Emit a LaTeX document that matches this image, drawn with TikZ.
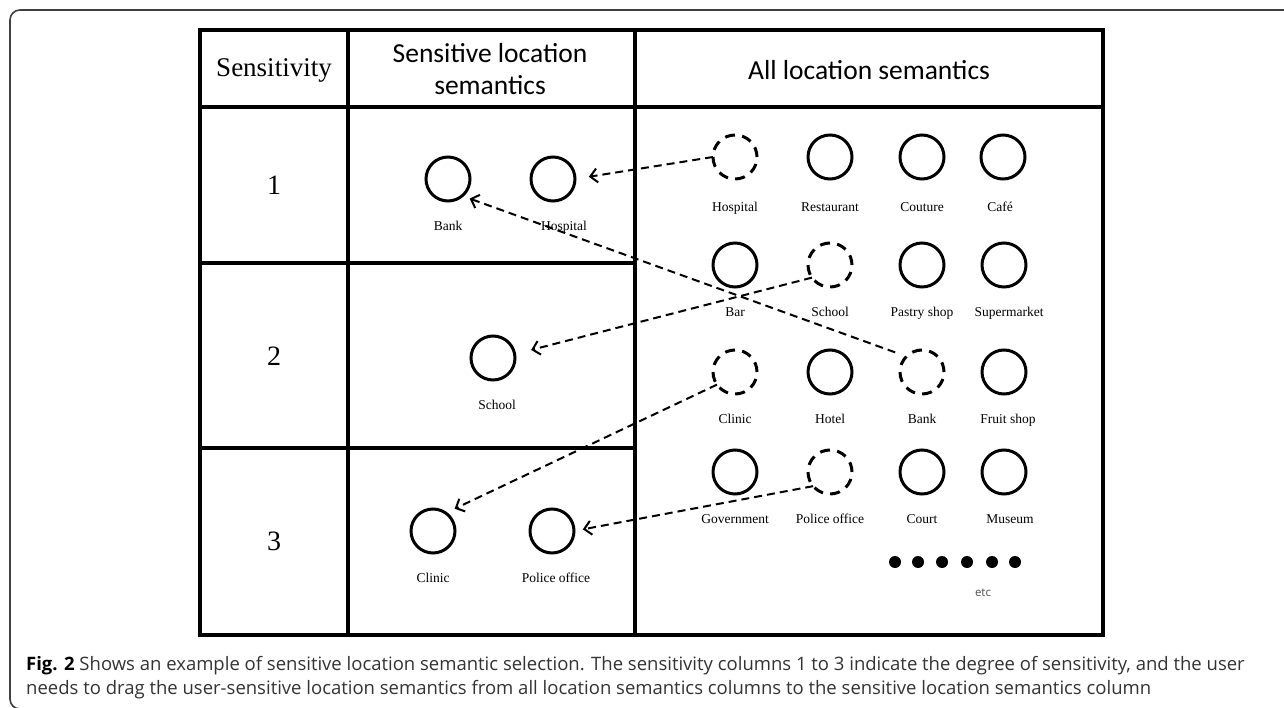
\documentclass[tikz,border=0pt]{standalone}
\usepackage{fontspec}
\setmainfont{Liberation Serif}
\newfontfamily\headfont{Carlito}
\newfontfamily\capfont{Open Sans}
\usetikzlibrary{arrows.meta}

\begin{document}
\begin{tikzpicture}[
    x=1pt,
    y=-1pt,
    grid/.style={line width=4.5pt, line cap=rect},
    loc/.style={
      draw,
      circle,
      line width=3pt,
      minimum size=44pt,
      inner sep=0pt,
      outer sep=0pt
    },
    picked/.style={loc, dash pattern=on 10pt off 7.28pt},
    every label/.style={
      font=\fontsize{13.5}{14}\selectfont,
      inner sep=0pt,
      text height=9pt,
      text depth=3pt,
      yshift=-20pt
    },
    drag/.style={
      line width=2pt,
      dash pattern=on 8pt off 5pt,
      -{Straight Barb[length=7pt,width=14pt,line width=2pt]}
    },
    dot/.style={circle, fill=black, inner sep=0pt, minimum size=12pt}
  ]
    \useasboundingbox (0,0) rectangle (1284,708);
    \clip (0,0) rectangle (1284,708);

    % outer frame
    \draw[black!75, line width=1.6pt, rounded corners=10pt]
      (1300,10) -- (10,10) -- (10,709) -- (1300,709);

    % table
    \draw[grid] (200,30) rectangle (1103,635);
    \draw[grid] (200,107) -- (1103,107);
    \draw[grid] (348,30) -- (348,635);
    \draw[grid] (635,30) -- (635,635);
    \draw[grid] (200,263) -- (635,263);
    \draw[grid] (200,448) -- (635,448);

    % headers
    \node[font=\fontsize{27}{30}\selectfont] (head_sens) at (274,70) {Sensitivity};
    \node[font=\headfont\fontsize{27.5}{32}\selectfont, align=center] (head_sel) at (490,69)
      {Sensitive location\\semantics};
    \node[font=\headfont\fontsize{27.5}{32}\selectfont] (head_all) at (869,70)
      {All location semantics};

    % sensitivity levels
    \node[font=\fontsize{28}{30}\selectfont] (level1) at (274,185) {1};
    \node[font=\fontsize{28}{30}\selectfont] (level2) at (274,356) {2};
    \node[font=\fontsize{28}{30}\selectfont] (level3) at (274,541) {3};

    % sensitive location semantics
    \node[loc, label=below:Bank] (sel_bank) at (448,179) {};
    \node[loc, label={[xshift=11pt]below:Hospital}] (sel_hospital) at (553,179) {};
    \node[loc, label={[xshift=4pt]below:School}] (sel_school) at (493,358) {};
    \node[loc, label=below:Clinic] (sel_clinic) at (433,531) {};
    \node[loc, label={[xshift=4pt]below:Police office}] (sel_police) at (552,531) {};

    % all location semantics
    \node[picked, label={[yshift=-3pt]below:Hospital}] (all_hospital) at (735,157) {};
    \node[loc, label={[yshift=-3pt]below:Restaurant}] (all_restaurant) at (830,157) {};
    \node[loc, label={[yshift=-3pt]below:Couture}] (all_couture) at (922,157) {};
    \node[loc, label={[xshift=-3pt,yshift=-3pt]below:Café}] (all_cafe) at (1003,157) {};
    \node[loc, label=below:Bar] (all_bar) at (735,265) {};
    \node[picked, label=below:School] (all_school) at (830,265) {};
    \node[loc, label=below:Pastry shop] (all_pastry) at (922,265) {};
    \node[loc, label={[xshift=5pt]below:Supermarket}] (all_market) at (1004,265) {};
    \node[picked, label=below:Clinic] (all_clinic) at (735,372) {};
    \node[loc, label=below:Hotel] (all_hotel) at (830,372) {};
    \node[picked, label=below:Bank] (all_bank) at (922,372) {};
    \node[loc, label={[xshift=4pt]below:Fruit shop}] (all_fruit) at (1004,372) {};
    \node[loc, label=below:Government] (all_government) at (735,472) {};
    \node[picked, label=below:Police office] (all_police) at (830,472) {};
    \node[loc, label=below:Court] (all_court) at (922,472) {};
    \node[loc, label={[xshift=6pt]below:Museum}] (all_museum) at (1004,472) {};

    \node[dot] (more1) at (895,562) {};
    \node[dot] (more2) at (918,562) {};
    \node[dot] (more3) at (942,562) {};
    \node[dot] (more4) at (967,562) {};
    \node[dot] (more5) at (992,562) {};
    \node[dot] (more6) at (1015,562) {};
    \node[font=\capfont\fontsize{11.5}{12}\selectfont, text=black!70] (more_etc) at (983,593) {etc};

    % dragged semantics
    \draw[drag, shorten >=14pt] (all_hospital.west) to (sel_hospital.east);
    \draw[drag, shorten <=12pt, shorten >=8pt] (all_bank.135) to (sel_bank.-50);
    \draw[drag, shorten >=17pt] (all_school.215) to (sel_school.10);
    \draw[drag, shorten >=10pt] (all_clinic.215) to (sel_clinic.55);
    \draw[drag, shorten >=9pt] (all_police.220) to (sel_police.east);

    % caption
    \node[anchor=base west, align=left, inner sep=0pt, text=black!80,
      font=\capfont\fontsize{18.5}{24}\selectfont] (caption) at (26,694)
      {\textcolor{black}{\textbf{Fig. 2}} Shows an example of sensitive location semantic selection. The sensitivity columns 1 to 3 indicate the degree of sensitivity, and the user\\
       needs to drag the user-sensitive location semantics from all location semantics columns to the sensitive location semantics column};

  \end{tikzpicture}
\end{document}
